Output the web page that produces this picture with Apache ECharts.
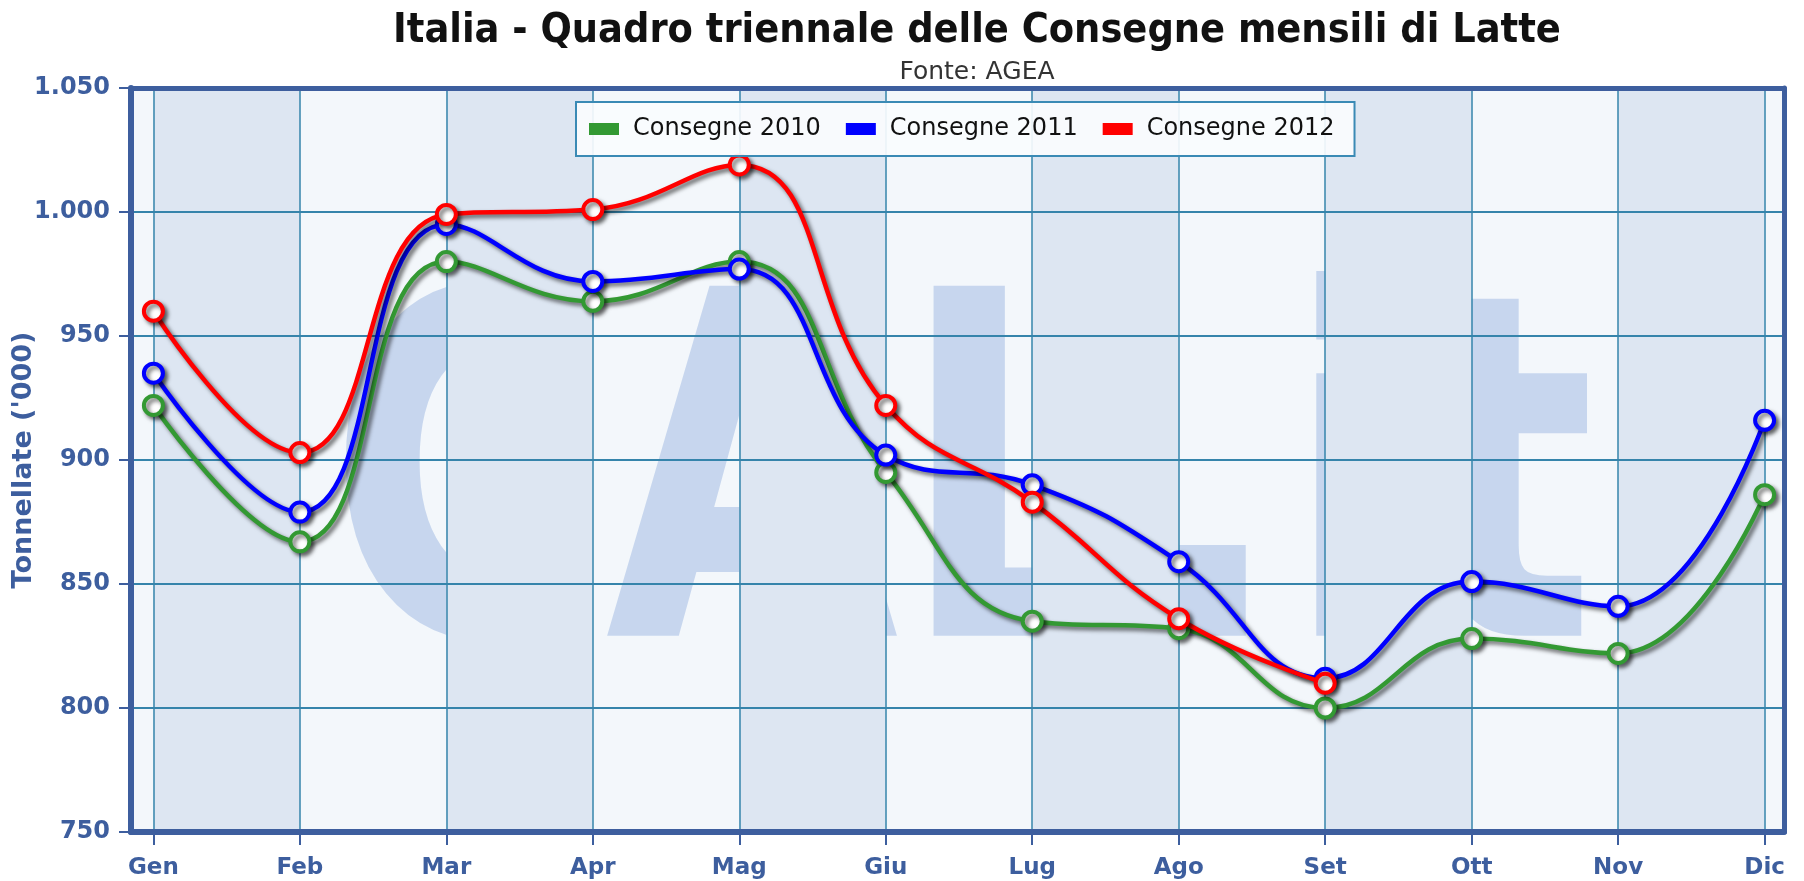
<!DOCTYPE html>
<html>
<head>
<meta charset="utf-8">
<script src="https://cdn.jsdelivr.net/npm/echarts@6/dist/echarts.min.js"></script>
<style>
html,body{margin:0;padding:0;background:#ffffff;}
#chart{width:1804px;height:881px;}
</style>
</head>
<body>
<div id="chart"></div>
<script>
// ---- data ----
const months = ['Gen','Feb','Mar','Apr','Mag','Giu','Lug','Ago','Set','Ott','Nov','Dic'];
const consegne2010 = [922, 867, 980, 964, 980, 895, 835, 832, 800, 828, 822, 886];
const consegne2011 = [935, 879, 995, 972, 977, 902, 890, 859, 812, 851, 841, 916];
const consegne2012 = [960, 903, 999, 1001, 1019, 922, 883, 836, 810, null, null, null];
const seriesNames = ['Consegne 2010', 'Consegne 2011', 'Consegne 2012'];
const yTicks = [750, 800, 850, 900, 950, 1000, 1050];

const colors = ['#339933', '#0000ff', '#ff0000'];
const axisBlue = '#3d5e9e';
const gridLineColor = '#3584ab';

function fmt(v) {
  if (v >= 1000) return Math.floor(v / 1000) + '.' + String(v % 1000).padStart(3, '0');
  return String(v);
}

const chart = echarts.init(document.getElementById('chart'), null, {renderer: 'canvas'});

function mkSeries(name, data, color, z) {
  return {
    name: name, type: 'line', data: data,
    xAxisIndex: 1, yAxisIndex: 1,
    smooth: 0.45, z: z,
    symbol: 'circle', symbolSize: 19,
    lineStyle: {color: color, width: 4.5, shadowColor: 'rgba(0,0,0,0.6)', shadowBlur: 4, shadowOffsetX: 3, shadowOffsetY: 3},
    itemStyle: {color: '#ffffff', borderColor: color, borderWidth: 4, shadowColor: 'rgba(0,0,0,0.55)', shadowBlur: 4, shadowOffsetX: 3, shadowOffsetY: 3},
    emphasis: {disabled: true},
    connectNulls: false
  };
}

const option = {
  animation: false,
  backgroundColor: '#ffffff',
  title: [
    {text: 'Italia - Quadro triennale delle Consegne mensili di Latte', left: 972, top: 6, textAlign: 'center',
     textStyle: {fontFamily: 'DejaVu Sans Condensed, DejaVu Sans', fontSize: 41, fontWeight: 'bold', color: '#111111'}},
    {text: 'Fonte: AGEA', left: 972, top: 55, textAlign: 'center',
     textStyle: {fontFamily: 'DejaVu Sans', fontSize: 25, fontWeight: 'normal', color: '#333333'}}
  ],
  legend: {
    left: 576, top: 102,
    orient: 'horizontal',
    icon: 'rect', itemWidth: 30, itemHeight: 12, itemGap: 25,
    padding: [15, 20, 15, 13],
    borderColor: '#3a8ab5', borderWidth: 2, backgroundColor: 'rgba(250,252,254,0.92)',
    textStyle: {fontFamily: 'DejaVu Sans', fontSize: 24, color: '#111111', padding: [0, 0, 0, 9]},
    data: seriesNames.map((n, i) => ({name: n, itemStyle: {color: colors[i], borderWidth: 0, shadowBlur: 0, shadowOffsetX: 0, shadowOffsetY: 0}})),
    z: 10
  },
  graphic: [
    {type: 'text', x: 327, y: 511, z: 1, silent: true, scaleX: 0.79,
     style: {text: 'CAL.it', fontFamily: 'DejaVu Sans', fontWeight: 'bold', fontSize: 480,
             fill: 'rgba(105,145,212,0.32)', align: 'left', verticalAlign: 'middle'}}
  ],
  grid: [
    {left: 131, right: 20, top: 88, bottom: 49, show: true, backgroundColor: '#f3f7fb', borderWidth: 0, z: 0,
     containLabel: false, outerBoundsMode: 'none'},
    {left: 153.4, right: 39.4, top: 88, bottom: 49, show: false, containLabel: false, outerBoundsMode: 'none'}
  ],
  xAxis: [
    {gridIndex: 0, type: 'value', min: 0, max: 1, position: 'bottom', z: 6,
     axisLine: {show: true, onZero: false, lineStyle: {color: axisBlue, width: 6}},
     axisTick: {show: false}, axisLabel: {show: false}, splitLine: {show: false}},
    {gridIndex: 1, type: 'category', data: months, boundaryGap: false, position: 'bottom', z: 1,
     axisLine: {show: false},
     axisTick: {show: true, length: 13, lineStyle: {color: axisBlue, width: 2}},
     axisLabel: {show: true, margin: 25, fontFamily: 'DejaVu Sans', fontWeight: 'bold', fontSize: 23, color: axisBlue},
     splitLine: {show: false},
     splitArea: {show: true, areaStyle: {color: ['#dde6f2', 'rgba(0,0,0,0)']}}},
    {gridIndex: 1, type: 'category', data: months, boundaryGap: false, position: 'bottom', z: 3,
     axisLine: {show: false}, axisTick: {show: false}, axisLabel: {show: false},
     splitLine: {show: true, lineStyle: {color: gridLineColor, width: 1.5}}},
    {gridIndex: 0, type: 'value', min: 0, max: 1, position: 'top', z: 6,
     axisLine: {show: true, onZero: false, lineStyle: {color: axisBlue, width: 5}},
     axisTick: {show: false}, axisLabel: {show: false}, splitLine: {show: false}}
  ],
  yAxis: [
    {gridIndex: 0, type: 'value', min: yTicks[0], max: yTicks[yTicks.length - 1], interval: 50, position: 'left', z: 5,
     name: "Tonnellate ('000)", nameLocation: 'middle', nameGap: 94, nameRotate: 90, nameMoveOverlap: false,
     nameTextStyle: {fontFamily: 'DejaVu Sans', fontWeight: 'bold', fontSize: 27, color: axisBlue},
     axisLine: {show: true, onZero: false, lineStyle: {color: axisBlue, width: 6}},
     axisTick: {show: true, length: 12, lineStyle: {color: axisBlue, width: 2}},
     axisLabel: {show: true, margin: 21, formatter: fmt, fontFamily: 'DejaVu Sans', fontWeight: 'bold', fontSize: 24, color: axisBlue},
     splitLine: {show: true, lineStyle: {color: gridLineColor, width: 2}}},
    {gridIndex: 1, type: 'value', min: yTicks[0], max: yTicks[yTicks.length - 1], interval: 50, show: false},
    {gridIndex: 0, type: 'value', min: yTicks[0], max: yTicks[yTicks.length - 1], interval: 50, position: 'right', z: 6,
     axisLine: {show: true, onZero: false, lineStyle: {color: axisBlue, width: 5}},
     axisTick: {show: false}, axisLabel: {show: false}, splitLine: {show: false}}
  ],
  series: [
    mkSeries(seriesNames[0], consegne2010, colors[0], 7),
    mkSeries(seriesNames[1], consegne2011, colors[1], 8),
    mkSeries(seriesNames[2], consegne2012, colors[2], 9)
  ]
};
chart.setOption(option);
</script>
</body>
</html>
